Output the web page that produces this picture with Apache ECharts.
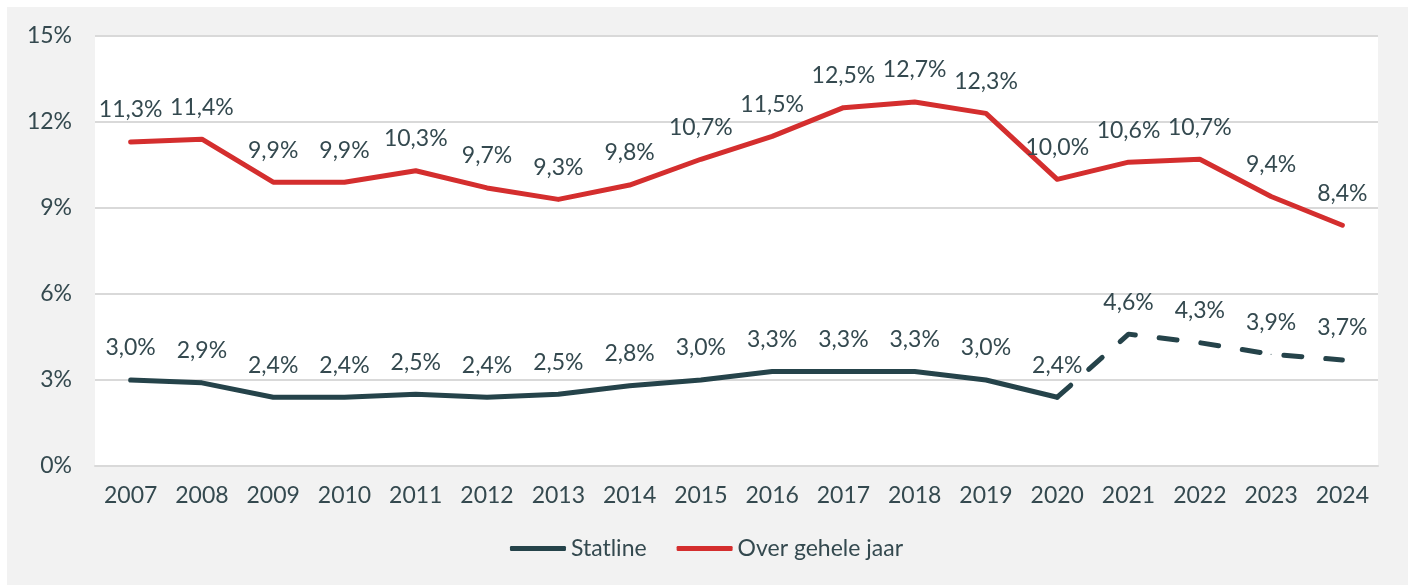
<!DOCTYPE html>
<html>
<head>
    <meta charset="utf-8">
    <title>Statline</title>
    <script type="text/javascript" src="https://cdn.jsdelivr.net/npm/echarts@6/dist/echarts.min.js"></script>
</head>
<body style="margin:0; padding:0; background:#fff;">
    <div id="main" style="width:1413px; height:585px;"></div>
    <script type="text/javascript">
    // data
    var years = ['2007', '2008', '2009', '2010', '2011', '2012', '2013', '2014', '2015',
        '2016', '2017', '2018', '2019', '2020', '2021', '2022', '2023', '2024'];
    var statline = [3.0, 2.9, 2.4, 2.4, 2.5, 2.4, 2.5, 2.8, 3.0, 3.3, 3.3, 3.3, 3.0, 2.4,
        4.6, 4.3, 3.9, 3.7];
    var overGeheleJaar = [11.3, 11.4, 9.9, 9.9, 10.3, 9.7, 9.3, 9.8, 10.7, 11.5, 12.5, 12.7,
        12.3, 10.0, 10.6, 10.7, 9.4, 8.4];
    var lastMeasured = 13; // 2020, after this the line is dashed

    var textColor = '#34494f';
    var dark = '#25434a';
    var red = '#d42e2e';
    var font = 'Lato';

    var myChart = echarts.init(document.getElementById('main'));

    function pct(p) {
        return p.value.toFixed(1).replace('.', ',') + '%';
    }

    var labelStyle = {
        show: true,
        position: 'top',
        distance: 20,
        color: textColor,
        fontSize: 23,
        fontFamily: font,
        formatter: pct
    };

    var solidData = statline.map(function(v, i) {
        return i <= lastMeasured ? v : null;
    });
    var dashedData = statline.map(function(v, i) {
        if (i < lastMeasured) return null;
        if (i == lastMeasured) return { value: v, label: { show: false } };
        return v;
    });

    var option = {
        backgroundColor: '#ffffff',
        animation: false,
        graphic: [{
            type: 'rect',
            z: -10,
            shape: { x: 7, y: 7, width: 1401, height: 578 },
            style: { fill: '#f2f2f2' }
        }],
        grid: {
            left: 95,
            right: 35,
            top: 36,
            bottom: 119,
            show: true,
            backgroundColor: '#ffffff',
            borderWidth: 0
        },
        legend: {
            bottom: 20,
            left: 'center',
            data: ['Statline', 'Over gehele jaar'],
            icon: 'roundRect',
            itemWidth: 56,
            itemHeight: 5,
            itemGap: 30,
            textStyle: { color: textColor, fontSize: 23, fontFamily: font }
        },
        xAxis: {
            type: 'category',
            data: years,
            boundaryGap: true,
            axisLine: { show: true, lineStyle: { color: '#d9d9d9', width: 2 } },
            axisTick: { show: false },
            axisLabel: { color: textColor, fontSize: 23, fontFamily: font, margin: 18 }
        },
        yAxis: {
            type: 'value',
            min: 0,
            max: 15,
            interval: 3,
            axisLine: { show: false },
            axisTick: { show: false },
            splitLine: { lineStyle: { color: '#d9d9d9', width: 2 } },
            axisLabel: { color: textColor, fontSize: 23, fontFamily: font, margin: 23, formatter: '{value}%' }
        },
        series: [{
            name: 'Statline',
            type: 'line',
            data: solidData,
            symbol: 'circle',
            symbolSize: 1,
            itemStyle: { color: dark },
            lineStyle: { color: dark, width: 5, cap: 'round', join: 'round' },
            label: labelStyle
        }, {
            name: 'Statline',
            type: 'line',
            data: dashedData,
            symbol: 'circle',
            symbolSize: 1,
            itemStyle: { color: dark },
            lineStyle: { color: dark, width: 5, type: [18, 24], cap: 'round', join: 'round' },
            label: labelStyle
        }, {
            name: 'Over gehele jaar',
            type: 'line',
            data: overGeheleJaar,
            symbol: 'circle',
            symbolSize: 1,
            itemStyle: { color: red },
            lineStyle: { color: red, width: 5, cap: 'round', join: 'round' },
            label: labelStyle
        }]
    };

    myChart.setOption(option);
    </script>
</body>
</html>
